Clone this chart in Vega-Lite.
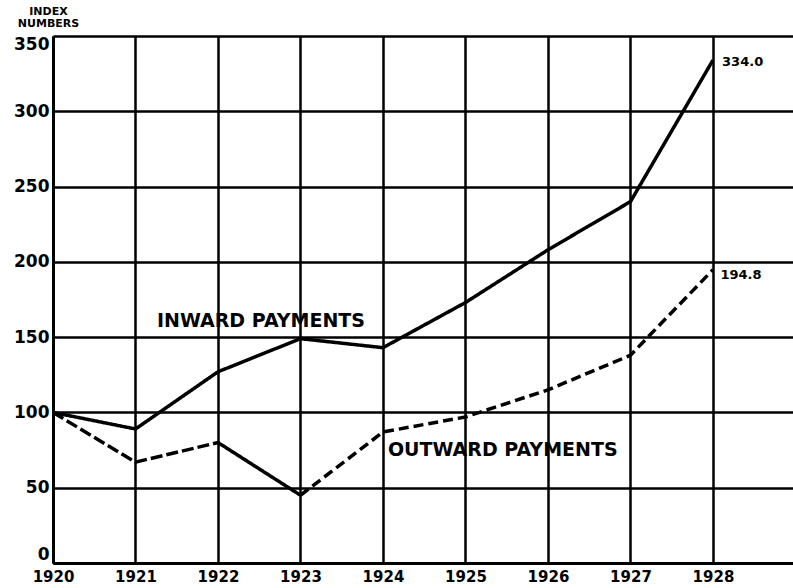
{
  "$schema": "https://vega.github.io/schema/vega-lite/v6.json",
  "width": 740,
  "height": 527,
  "autosize": {"type": "none"},
  "padding": {"left": 53, "top": 36, "right": 0, "bottom": 25},
  "background": "white",
  "config": {
    "view": {"stroke": null},
    "font": "DejaVu Sans",
    "axis": {"labelFont": "DejaVu Sans", "labelFontWeight": "bold", "labelColor": "black", "gridColor": "black", "gridOpacity": 1, "domainColor": "black", "titleColor": "black"}
  },
  "datasets": {
    "series": [
      {"year": 1920, "value": 100, "series": "Inward", "seg": "in"},
      {"year": 1921, "value": 89, "series": "Inward", "seg": "in"},
      {"year": 1922, "value": 127, "series": "Inward", "seg": "in"},
      {"year": 1923, "value": 149, "series": "Inward", "seg": "in"},
      {"year": 1924, "value": 143, "series": "Inward", "seg": "in"},
      {"year": 1925, "value": 173, "series": "Inward", "seg": "in"},
      {"year": 1926, "value": 208, "series": "Inward", "seg": "in"},
      {"year": 1927, "value": 240, "series": "Inward", "seg": "in"},
      {"year": 1928, "value": 334.0, "series": "Inward", "seg": "in"},
      {"year": 1920, "value": 100, "series": "Outward", "seg": "out1"},
      {"year": 1921, "value": 67, "series": "Outward", "seg": "out1"},
      {"year": 1922, "value": 80, "series": "Outward", "seg": "out1"},
      {"year": 1922, "value": 80, "series": "Outward", "seg": "out2"},
      {"year": 1923, "value": 45, "series": "Outward", "seg": "out2"},
      {"year": 1923, "value": 45, "series": "Outward", "seg": "out3"},
      {"year": 1924, "value": 87, "series": "Outward", "seg": "out3"},
      {"year": 1925, "value": 97, "series": "Outward", "seg": "out3"},
      {"year": 1926, "value": 115, "series": "Outward", "seg": "out3"},
      {"year": 1927, "value": 138, "series": "Outward", "seg": "out3"},
      {"year": 1928, "value": 194.8, "series": "Outward", "seg": "out3"}
    ],
    "labels": [
      {"year": 1921.26, "value": 161, "label": "INWARD PAYMENTS", "kind": "big"},
      {"year": 1924.06, "value": 75, "label": "OUTWARD PAYMENTS", "kind": "big"},
      {"year": 1928.11, "value": 333, "label": "334.0", "kind": "small"},
      {"year": 1928.09, "value": 191, "label": "194.8", "kind": "small"}
    ]
  },
  "layer": [
    {
      "data": {"name": "series"},
      "mark": {"type": "line", "color": "black", "strokeWidth": 3.5},
      "encoding": {
        "x": {
          "field": "year", "type": "quantitative",
          "scale": {"domain": [1920, 1928.97], "nice": false, "zero": false},
          "axis": {"values": [1920, 1921, 1922, 1923, 1924, 1925, 1926, 1927, 1928], "format": "d", "title": null, "grid": true, "gridWidth": 2.5, "ticks": false, "domainWidth": 3, "labelFontSize": 15, "labelPadding": 6, "labelFlush": false}
        },
        "y": {
          "field": "value", "type": "quantitative",
          "scale": {"domain": [0, 350], "nice": false},
          "axis": {"values": [0, 50, 100, 150, 200, 250, 300, 350], "grid": true, "gridWidth": 2.5, "ticks": false, "domainWidth": 3, "labelFontSize": 17, "labelPadding": 4, "labelFlush": true,
            "title": ["INDEX", "NUMBERS"], "titleAngle": 0, "titleFontSize": 11, "titleFontWeight": "bold", "titleAlign": "center", "titleBaseline": "top", "titleX": -5, "titleY": -31, "titleLineHeight": 12}
        },
        "detail": {"field": "seg"},
        "strokeDash": {
          "field": "seg", "type": "nominal",
          "scale": {"domain": ["in", "out1", "out2", "out3"], "range": [[1, 0], [12, 4], [1, 0], [10, 5]]},
          "legend": null
        }
      }
    },
    {
      "data": {"name": "labels"},
      "mark": {"type": "text", "align": "left", "baseline": "middle", "fontWeight": "bold", "color": "black"},
      "encoding": {
        "x": {"field": "year", "type": "quantitative"},
        "y": {"field": "value", "type": "quantitative"},
        "text": {"field": "label"},
        "size": {"field": "kind", "type": "nominal", "scale": {"domain": ["big", "small"], "range": [19, 13]}, "legend": null}
      }
    }
  ]
}
